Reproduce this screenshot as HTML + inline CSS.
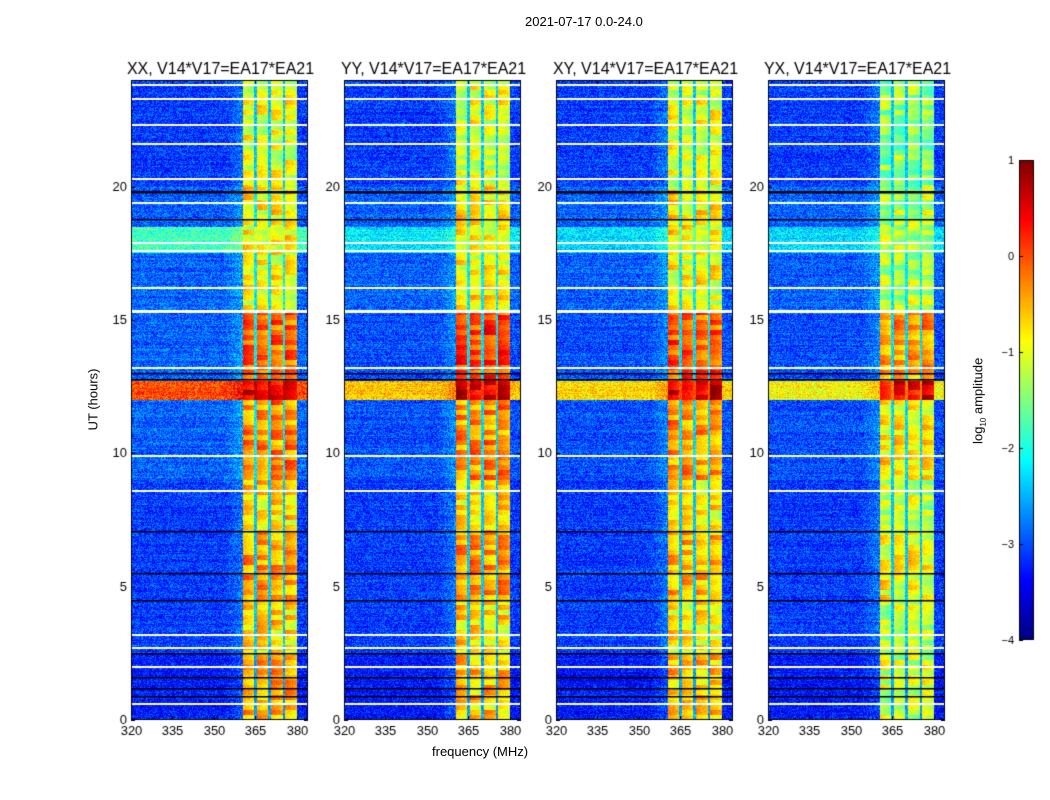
<!DOCTYPE html>
<html><head><meta charset="utf-8"><style>
body{margin:0;background:#fff;width:1050px;height:800px;overflow:hidden;position:relative;font-family:"Liberation Sans",sans-serif;}
.t{position:absolute;font-size:13px;color:#000;white-space:nowrap}
canvas{position:absolute;left:0;top:0}
</style></head><body>
<canvas id="c" width="1050" height="800"></canvas>
<div class="t" style="left:525px;top:14px">2021-07-17 0.0-24.0</div>
<div class="t" style="left:432px;top:744px">frequency (MHz)</div>
<div class="t" style="left:62px;top:392px;transform:rotate(-90deg)">UT (hours)</div>
<div class="t" style="left:936px;top:392px;transform:rotate(-90deg)">log<sub style="font-size:8px">10</sub> amplitude</div>
<script>
const panelTitles=["XX, V14*V17=EA17*EA21","YY, V14*V17=EA17*EA21","XY, V14*V17=EA17*EA21","YX, V14*V17=EA17*EA21"];
const xTicks=[320,335,350,365,380];
const yTicks=[0,5,10,15,20];
const cbTicks=[1,0,-1,-2,-3,-4];
const segStart=[0,2.5,4.5,7,9,12,12.7,15.3,17.5,18.5,20];
const bgXX=[-3.3,-3.1,-3.1,-3.1,-2.9,0.0,-2.9,-2.9,-1.8,-2.9,-3.1];
const bandXX=[-0.6,-0.8,-0.5,-0.8,-0.4,0.5,-0.2,-1.0,-1.0,-0.9,-1.1];
const bgYY=[-3.3,-3.1,-3.1,-3.1,-3.0,-0.6,-3.0,-2.9,-2.2,-2.9,-3.1];
const bandYY=[-0.7,-0.8,-0.5,-0.8,-0.4,0.5,0.0,-0.9,-1.0,-0.9,-1.1];
const bgXY=[-3.3,-3.1,-3.1,-3.1,-3.0,-0.7,-3.0,-2.9,-2.3,-2.9,-3.1];
const bandXY=[-0.7,-0.9,-0.6,-0.9,-0.5,0.5,-0.1,-1.0,-1.0,-0.9,-1.1];
const bgYX=[-3.3,-3.1,-3.1,-3.1,-3.0,-0.9,-3.0,-2.9,-2.3,-2.9,-3.1];
const bandYX=[-1.2,-1.3,-1.0,-1.3,-0.9,0.4,-0.5,-1.3,-1.4,-1.3,-1.5];
const bgLevels=[bgXX,bgYY,bgXY,bgYX];
const bandLevels=[bandXX,bandYY,bandXY,bandYX];
const bandEdges=[360.5,365,370,375.3,380];
const whiteHours=[0.6,2.0,2.7,3.2,8.6,9.9,13.2,15.3,15.35,16.2,17.6,17.9,19.4,20.3,21.6,22.3,23.3,23.8];
const blackHours=[0.9,1.2,1.6,2.5,4.5,5.5,7.1,12.8,13.0,18.8,19.8,19.85];

const cv=document.getElementById('c');const ctx=cv.getContext('2d');
const PL=[131,344,556,768],PW=177,PT=80,PB=720;
const fmin=320,fmax=384,hmax=24;
function xs(p,f){return PL[p]+(f-fmin)/(fmax-fmin)*PW;}
function ys(h){return PB-h/hmax*(PB-PT);}
function jet(v){let t=(v+4)/5;t=Math.max(0,Math.min(1,t));
 const r=Math.min(4*t-1.5,-4*t+4.5),g=Math.min(4*t-0.5,-4*t+3.5),b=Math.min(4*t+0.5,-4*t+2.5);
 const c=x=>Math.round(255*Math.max(0,Math.min(1,x)));return [c(r),c(g),c(b)];}
function hash(a,b){let h=(a*374761393+b*668265263)|0;h=(h^(h>>>13))*1274126177;h=h^(h>>>16);return ((h>>>0)%10000)/10000;}
function segIdx(h){let i=0;for(let k=0;k<segStart.length;k++)if(h>=segStart[k])i=k;return i;}
for(let p=0;p<4;p++){
 const img=ctx.createImageData(PW,PB-PT);
 for(let py=0;py<PB-PT;py++){
  const h=(PB-PT-py-0.5)/(PB-PT)*hmax;const si=segIdx(h);
  const bg=bgLevels[p][si],bd=bandLevels[p][si];
  const rowN=(hash(py,p*7+3)-0.5)*0.25;
  const blk=Math.floor(py/5);
  for(let px=0;px<PW;px++){
   const f=fmin+(px+0.5)/PW*(fmax-fmin);
   let v;
   if(f>=bandEdges[0]&&f<=bandEdges[bandEdges.length-1]){
    let gap=false,pos=0,sb=0;
    for(let k=0;k<bandEdges.length-1;k++){if(f>=bandEdges[k]&&f<bandEdges[k+1]){pos=(f-bandEdges[k])/(bandEdges[k+1]-bandEdges[k]);sb=k;}}
    for(let k=1;k<bandEdges.length-1;k++)if(Math.abs(f-bandEdges[k])<0.45)gap=true;
    const patch=(hash(blk+p*131,sb+11)-0.5)*0.9;
    v=bd+(0.25-pos*0.35)+patch+(hash(px,py+p*999)-0.5)*0.35;
    if(gap)v=bg+0.7+(hash(px,py)-0.5)*0.6;
   }else{
    v=bg+rowN+(hash(px+p*300,py)-0.5)*0.9;
    if(f>354&&f<360.5)v+=0.3*(f-354)/6;
   }
   const c=jet(v);const o=(py*PW+px)*4;img.data[o]=c[0];img.data[o+1]=c[1];img.data[o+2]=c[2];img.data[o+3]=255;
  }
 }
 ctx.putImageData(img,PL[p],PT);
 ctx.fillStyle='#fff';whiteHours.forEach(h=>ctx.fillRect(PL[p],Math.round(ys(h))-1,PW,2));
 ctx.fillStyle='#000';blackHours.forEach(h=>ctx.fillRect(PL[p],Math.round(ys(h)),PW,1.5));
 ctx.strokeStyle='#000';ctx.lineWidth=1;ctx.strokeRect(PL[p]+0.5,PT+0.5,PW-1,PB-PT-1);
 ctx.fillStyle='#000';ctx.font='13px "Liberation Sans", sans-serif';ctx.textAlign='center';ctx.textBaseline='top';
 xTicks.forEach(t=>{const x=Math.round(xs(p,t))+0.5;ctx.beginPath();ctx.moveTo(x,PB);ctx.lineTo(x,PB-4);ctx.moveTo(x,PT);ctx.lineTo(x,PT+4);ctx.stroke();ctx.fillText(String(t),x,PB+5);});
 ctx.textAlign='right';ctx.textBaseline='middle';
 yTicks.forEach(t=>{const y=Math.round(ys(t))+0.5;ctx.beginPath();ctx.moveTo(PL[p],y);ctx.lineTo(PL[p]+4,y);ctx.moveTo(PL[p]+PW,y);ctx.lineTo(PL[p]+PW-4,y);ctx.stroke();ctx.fillText(String(t),PL[p]-4,y);});
 ctx.font='16px "Liberation Sans", sans-serif';ctx.textAlign='center';ctx.textBaseline='alphabetic';
 ctx.fillText(panelTitles[p],PL[p]+PW/2+1,74);
}
const CX=1019,CW=15,CT=160,CB=640;
for(let y=CT;y<CB;y++){const v=1-(y-CT)/(CB-CT)*5;const c=jet(v);ctx.fillStyle=`rgb(${c[0]},${c[1]},${c[2]})`;ctx.fillRect(CX,y,CW,1);}
ctx.strokeStyle='#000';ctx.strokeRect(CX+0.5,CT+0.5,CW-1,CB-CT-1);
ctx.font='11px "Liberation Sans", sans-serif';ctx.textAlign='right';ctx.textBaseline='middle';ctx.fillStyle='#000';
cbTicks.forEach(t=>{const y=Math.round(CT+(1-t)/5*(CB-CT))+0.5;ctx.beginPath();ctx.moveTo(CX,y);ctx.lineTo(CX+4,y);ctx.stroke();ctx.fillText(String(t).replace('-','\u2212'),CX-5,y);});
</script>
</body></html>
